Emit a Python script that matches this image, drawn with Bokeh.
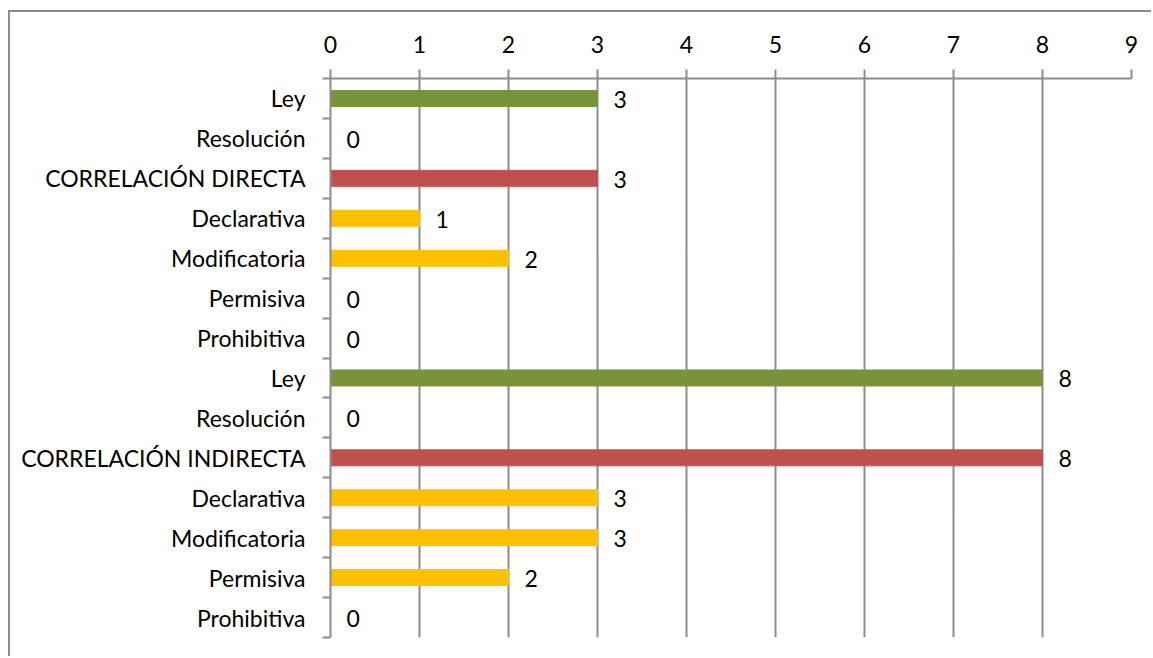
from bokeh.plotting import figure
from bokeh.models import ColumnDataSource, FixedTicker, Range1d, LabelSet
from bokeh.core.properties import value
from bokeh.embed import file_html
from bokeh.resources import INLINE

categories = ["Ley", "Resolución", "CORRELACIÓN DIRECTA", "Declarativa", "Modificatoria",
              "Permisiva", "Prohibitiva", "Ley", "Resolución", "CORRELACIÓN INDIRECTA",
              "Declarativa", "Modificatoria", "Permisiva", "Prohibitiva"]
values = [3, 0, 3, 1, 2, 0, 0, 8, 0, 8, 3, 3, 2, 0]
colors = ["#77933C", "#77933C", "#C0504D", "#FFC000", "#FFC000", "#FFC000", "#FFC000",
          "#77933C", "#77933C", "#C0504D", "#FFC000", "#FFC000", "#FFC000", "#FFC000"]
x_ticks = [0, 1, 2, 3, 4, 5, 6, 7, 8, 9]

FONT = "Lato"
FS = "23px"
GRAY = "#8c8c8c"

pos = list(range(len(categories)))
src = ColumnDataSource(dict(y=pos, v=values, c=colors, lbl=[str(v) for v in values]))

p = figure(width=1143, height=646, output_backend="svg", toolbar_location=None,
           x_range=Range1d(0, 9), y_range=Range1d(len(categories) - 0.5, -0.5),
           x_axis_location="above",
           min_border_left=320, min_border_top=66, min_border_right=22, min_border_bottom=21)
p.styles = {"border-left": "2px solid #8c8c8c", "border-top": "2px solid #8c8c8c",
            "margin-top": "10px", "margin-left": "8px"}
p.outline_line_color = None

p.hbar(y="y", left=0, right="v", height=0.4, color="c", source=src)

labels = LabelSet(x="v", y="y", text="lbl", source=src, x_offset=16, y_offset=-1,
                  text_font=value(FONT), text_font_size=FS, text_color="#000000",
                  text_baseline="middle", text_align="left")
p.add_layout(labels)

xa = p.xaxis[0]
xa.ticker = FixedTicker(ticks=x_ticks)
xa.major_tick_in = 0
xa.major_tick_out = 9
xa.minor_tick_out = 0
xa.minor_tick_in = 0
xa.axis_line_color = GRAY
xa.axis_line_width = 2
xa.major_tick_line_color = GRAY
xa.major_tick_line_width = 2
xa.major_label_text_font = FONT
xa.major_label_text_font_size = FS
xa.major_label_text_color = "#000000"
xa.major_label_standoff = 17

ya = p.yaxis[0]
ya.ticker = FixedTicker(ticks=pos, minor_ticks=[i - 0.5 for i in range(len(categories) + 1)])
ya.major_label_overrides = {i: c for i, c in enumerate(categories)}
ya.major_tick_in = 0
ya.major_tick_out = 0
ya.minor_tick_in = 0
ya.minor_tick_out = 8
ya.minor_tick_line_color = GRAY
ya.minor_tick_line_width = 2
ya.axis_line_color = GRAY
ya.axis_line_width = 2
ya.major_label_text_font = FONT
ya.major_label_text_font_size = FS
ya.major_label_text_color = "#000000"
ya.major_label_standoff = 17

p.xgrid.ticker = FixedTicker(ticks=x_ticks)
p.xgrid.grid_line_color = GRAY
p.xgrid.grid_line_width = 2
p.ygrid.grid_line_color = None

open("out.html", "w").write(file_html(p, INLINE))
